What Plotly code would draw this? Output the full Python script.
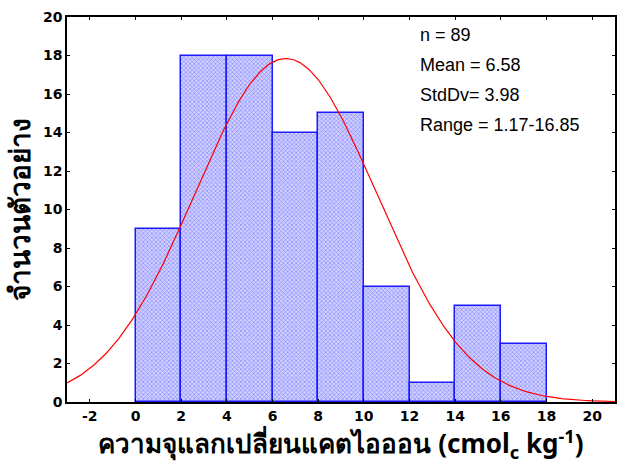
import numpy as np
import plotly.graph_objects as go

# Data
bin_centers = [1, 3, 5, 7, 9, 11, 13, 15, 17]
counts = [9, 18, 18, 14, 15, 6, 1, 5, 3]
bin_width = 2
n_samples = 89
mean_val = 6.58
std_val = 3.98
x_ticks = [-2, 0, 2, 4, 6, 8, 10, 12, 14, 16, 18, 20]
y_ticks = [0, 2, 4, 6, 8, 10, 12, 14, 16, 18, 20]
stats_lines = ["n = 89", "Mean = 6.58", "StdDv= 3.98", "Range = 1.17-16.85"]

# Normal fit scaled to counts
xc = np.linspace(-3, 21, 300)
yc = n_samples * bin_width / (std_val * np.sqrt(2 * np.pi)) * np.exp(-0.5 * ((xc - mean_val) / std_val) ** 2)

fig = go.Figure()
fig.add_trace(go.Bar(
    x=bin_centers, y=counts, width=bin_width,
    marker=dict(color="white",
                line=dict(color="#1a1aff", width=1.5),
                pattern=dict(shape="x", fgcolor="#4444ff", bgcolor="#d0d0ff", size=3, solidity=0.4)),
    showlegend=False,
))
fig.add_trace(go.Scatter(x=xc, y=yc, mode="lines", line=dict(color="#ff0000", width=1.2),
                         showlegend=False))

tickfont = dict(family="DejaVu Sans", size=14, color="black", weight="bold")
fig.update_xaxes(range=[-3, 21], tickvals=x_ticks, ticktext=[str(v) for v in x_ticks],
                 showgrid=False, zeroline=False, showline=True, linecolor="black", linewidth=1.5,
                 mirror="ticks", ticks="inside", ticklen=3, tickcolor="black",
                 tickfont=tickfont,
                 title=dict(text="ความจุแลกเปลี่ยนแคตไอออน (cmol<sub>c</sub> kg<sup>-1</sup>)",
                            font=dict(family="Noto Sans, DejaVu Sans", size=26, color="black", weight="bold"),
                            standoff=8))
fig.update_yaxes(range=[0, 20], tickvals=y_ticks, showgrid=False, zeroline=False,
                 showline=True, linecolor="black", linewidth=1.5, mirror="ticks",
                 ticks="inside", ticklen=3, tickcolor="black", tickfont=tickfont,
                 title=dict(text="จำนวนตัวอย่าง",
                            font=dict(family="Noto Sans, DejaVu Sans", size=28, color="black", weight="bold"),
                            standoff=10))

for i, t in enumerate(stats_lines):
    fig.add_annotation(x=0.64, y=0.985 - i * 0.078, xref="paper", yref="paper", text=t,
                       showarrow=False, xanchor="left", yanchor="top",
                       font=dict(family="Liberation Sans, Arial", size=18, color="black"))

fig.update_layout(width=619, height=468, margin=dict(l=67, r=2, t=17, b=66),
                  plot_bgcolor="white", paper_bgcolor="white", bargap=0)
fig.write_html("out.html")
